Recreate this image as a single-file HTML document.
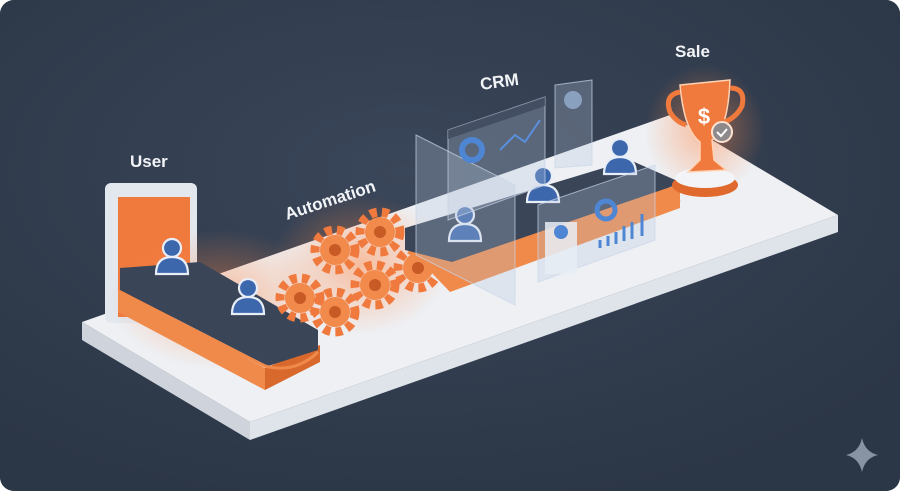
<!DOCTYPE html>
<html><head><meta charset="utf-8"><style>
html,body{margin:0;padding:0;background:#fff}
.w{width:900px;height:491px;border-radius:14px;overflow:hidden;background:#2e3a4b}
text{font-family:"Liberation Sans",sans-serif;font-weight:bold;fill:#f2f4f7}
</style></head><body><div class="w">
<svg width="900" height="491" viewBox="0 0 900 491">
<defs>
<radialGradient id="bg" cx="0.45" cy="0.35" r="0.7"><stop offset="0" stop-color="#3a4659"/><stop offset="1" stop-color="#2b3646"/></radialGradient>
<radialGradient id="glow" cx="0.5" cy="0.5" r="0.5"><stop offset="0" stop-color="#ff8a4a" stop-opacity="0.5"/><stop offset="1" stop-color="#ff8a4a" stop-opacity="0"/></radialGradient>
<g id="u"><circle cx="0" cy="-10" r="9" fill="#3d67ad" stroke="#e8eef8" stroke-width="2.2"/><path d="M-16 16 Q-16 -1 0 -1 Q16 -1 16 16 Z" fill="#3d67ad" stroke="#e8eef8" stroke-width="2.2"/></g>
<g id="gear"><circle r="20" fill="none" stroke="#f07a3e" stroke-width="9" stroke-dasharray="7 5"/><circle r="15" fill="#f28a4c"/><circle r="6" fill="#c85a25"/></g>
</defs>
<rect width="900" height="491" fill="url(#bg)"/>
<!-- platform -->
<polygon points="82,322 250,422 250,440 82,340" fill="#cfd4dc"/>
<polygon points="250,422 838,215 838,232 250,440" fill="#dfe3ea"/>
<polygon points="82,322 250,422 838,215 670,115" fill="#eef0f4"/>
<!-- door -->
<rect x="105" y="183" width="92" height="140" rx="6" fill="#e3e7ee"/>
<rect x="118" y="197" width="72" height="120" fill="#f07a3e"/>
<!-- conveyor 1 -->
<ellipse cx="220" cy="300" rx="110" ry="70" fill="url(#glow)"/>
<polygon points="118,290 265,368 265,390 118,312" fill="#f08a4a"/>
<polygon points="265,368 320,345 320,362 265,390" fill="#d9682c"/>
<polygon points="120,268 200,262 318,330 318,350 268,366 120,290" fill="#3a4558"/>
<path d="M120 292 L265 366 Q295 374 318 352" fill="none" stroke="#f08a4a" stroke-width="3"/>
<use href="#u" x="172" y="258"/>
<use href="#u" x="248" y="298"/>
<!-- gears -->
<ellipse cx="360" cy="265" rx="90" ry="70" fill="url(#glow)"/>
<use href="#gear" x="335" y="250"/>
<use href="#gear" x="380" y="232"/>
<use href="#gear" x="375" y="285"/>
<use href="#gear" x="300" y="298"/>
<use href="#gear" x="335" y="312"/>
<use href="#gear" x="418" y="268"/>
<!-- conveyor 2 -->
<polygon points="405,245 450,292 680,208 680,185" fill="#f08a4a"/>
<polygon points="405,228 630,160 682,183 452,262 405,250" fill="#3a4558"/>
<path d="M408 252 L452 280 L680 200" fill="none" stroke="#f08a4a" stroke-width="3"/>
<use href="#u" x="465" y="225"/>
<use href="#u" x="543" y="186"/>
<use href="#u" x="620" y="158"/>
<!-- glass panels -->
<g fill="#b8c6dc" fill-opacity="0.28" stroke="#c9d6ea" stroke-opacity="0.7">
<polygon points="448,130 545,97 545,185 448,220"/>
<polygon points="416,135 515,185 515,305 416,255"/>
<polygon points="555,85 592,80 592,165 555,168"/>
<polygon points="538,205 655,165 655,240 538,282"/>
</g>
<polygon points="448,130 545,97 545,106 448,139" fill="#3a4558" fill-opacity="0.7"/>
<circle cx="472" cy="150" r="10" fill="none" stroke="#4f86d4" stroke-width="6"/>
<polyline points="500,150 515,135 525,142 540,120" fill="none" stroke="#5a8fdc" stroke-width="2"/>
<circle cx="573" cy="100" r="9" fill="#8aa0bf"/>
<rect x="545" y="222" width="32" height="52" fill="#e8edf4" fill-opacity="0.85"/>
<circle cx="561" cy="232" r="7" fill="#4f86d4"/>
<circle cx="606" cy="210" r="9" fill="none" stroke="#4f86d4" stroke-width="5"/>
<g stroke="#4f86d4" stroke-width="3"><line x1="600" y1="248" x2="600" y2="240"/><line x1="608" y1="246" x2="608" y2="236"/><line x1="616" y1="244" x2="616" y2="232"/><line x1="624" y1="241" x2="624" y2="226"/><line x1="632" y1="239" x2="632" y2="222"/><line x1="642" y1="236" x2="642" y2="214"/></g>
<!-- trophy -->
<ellipse cx="705" cy="130" rx="60" ry="65" fill="url(#glow)"/>
<ellipse cx="705" cy="185" rx="33" ry="12" fill="#e0692d"/>
<ellipse cx="705" cy="178" rx="30" ry="10" fill="#f3f4f7"/>
<path d="M680 85 L730 80 Q728 130 712 140 L714 160 L726 170 L688 172 L700 160 L700 142 Q684 130 680 85Z" fill="#f07a3e" stroke="#ffd2b4" stroke-width="1.5"/>
<path d="M680 92 Q664 95 670 112 Q676 122 686 125" fill="none" stroke="#f07a3e" stroke-width="5"/>
<path d="M730 88 Q746 88 742 106 Q736 118 724 122" fill="none" stroke="#f07a3e" stroke-width="5"/>
<text x="704" y="124" font-size="22" text-anchor="middle" style="fill:#fff">$</text>
<circle cx="722" cy="132" r="10" fill="#8e8a8c" stroke="#ffe3d2" stroke-width="2"/>
<path d="M717 132 l4 4 l6 -7" fill="none" stroke="#fff" stroke-width="2"/>
<!-- labels -->
<text x="130" y="167" font-size="17">User</text>
<text x="287" y="220" font-size="17" transform="rotate(-18 287 220)">Automation</text>
<text x="481" y="90" font-size="17" transform="rotate(-8 481 90)">CRM</text>
<text x="675" y="57" font-size="17">Sale</text>
<!-- sparkle -->
<path d="M862 438 Q865 452 878 455 Q865 458 862 472 Q859 458 846 455 Q859 452 862 438Z" fill="#8893a4"/>
</svg></div></body></html>
